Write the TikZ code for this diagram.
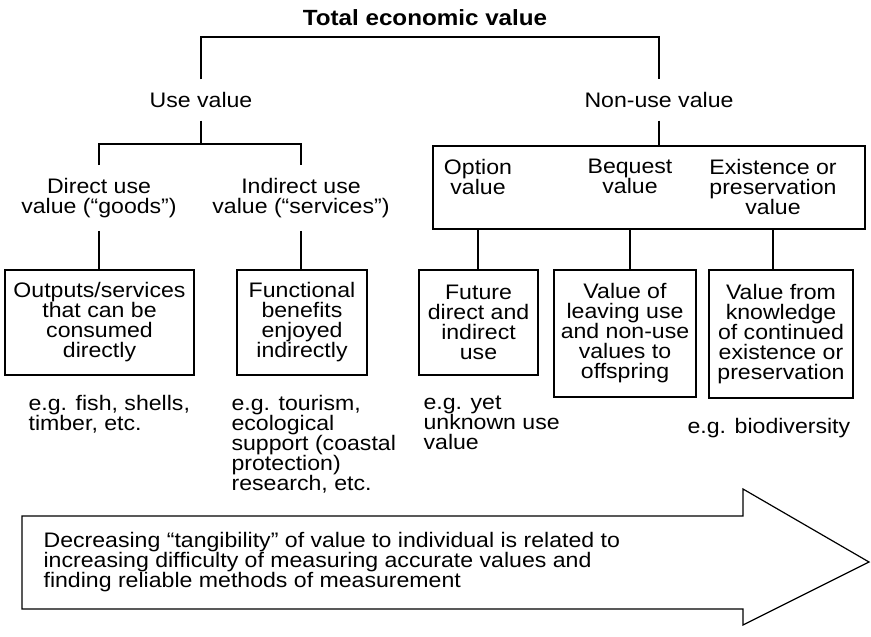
\documentclass[tikz,border=0pt]{standalone}
\usepackage{fontspec}
\setmainfont{Liberation Sans}[FakeStretch=1.1]

\begin{document}
\begin{tikzpicture}[x=0.5pt, y=-0.5pt, line width=0.6pt,
        font=\fontsize{10.5}{10}\selectfont]
    \tikzset{lbl/.style={align=center, inner sep=0pt, outer ysep=6.5pt},
        ttl/.style={font=\fontsize{11}{12}\selectfont\bfseries, inner sep=0pt},
        bx/.style={draw, align=center, inner sep=0pt},
        tag/.style={align=left, inner sep=0pt, anchor=north west}}
    \useasboundingbox (0,0) rectangle (871,636);

    %top
    \node[ttl] (tev) at (425,18) {Total economic value};
    \coordinate (tevbar) at (425,37);
    \node[lbl] (use) at (201,100) {Use value};
    \node[lbl] (nonuse) at (659,100) {Non-use value};
    \draw (use.north) |- (tevbar) -| (nonuse.north);

    %use value
    \coordinate (usebar) at (201,144);
    \node[lbl] (direct) at (99,198)   {Direct use\\value (``goods'')};
    \node[lbl] (indirect) at (301,198) {Indirect use\\value (``services'')};
    \draw (use.south) -- (usebar);
    \draw (direct.north) |- (usebar) -| (indirect.north);

    \node[bx, minimum width=94.5pt, minimum height=52.5pt] (outbox) at (99.5,322.5)
        {Outputs/services\\that can be\\consumed\\directly};
    \node[bx, minimum width=65pt, minimum height=52.5pt] (fnbox) at (302,322.5)
        {Functional\\benefits\\enjoyed\\indirectly};
    \draw (direct.south) -- (direct.south |- outbox.north);
    \draw (indirect.south) -- (indirect.south |- fnbox.north);

    \node[tag] (egfish) at (28,395) {e.g. fish, shells,\\timber, etc.};
    \node[tag] (egtour) at (231,395)
        {e.g. tourism,\\ecological\\support (coastal\\protection)\\research, etc.};

    %non-use value
    \node[bx, minimum width=216pt, minimum height=41.5pt] (nubox) at (649,187.5) {};
    \node[lbl] (opt) at (478,176.5) {Option\\value};
    \node[lbl] (beq) at (630,176.5) {Bequest\\value};
    \node[lbl] (exi) at (773,187)   {Existence or\\preservation\\value};
    \draw (nonuse.south) -- (nonuse.south |- nubox.north);

    \node[bx, minimum width=59.5pt, minimum height=52.5pt] (futbox) at (478.5,322.5)
        {Future\\direct and\\indirect\\use};
    \node[bx, minimum width=71pt, minimum height=63.5pt] (beqbox) at (625,333.5)
        {Value of\\leaving use\\and non-use\\values to\\offspring};
    \node[bx, minimum width=72pt, minimum height=64pt] (exibox) at (781,334)
        {Value from\\knowledge\\of continued\\existence or\\preservation};
    \foreach \a/\b in {opt/futbox, beq/beqbox, exi/exibox}
        \draw (\a |- nubox.south) -- (\a |- \b.north);

    \node[tag] (egyet) at (423,395) {e.g. yet\\unknown use\\value};
    \node[tag] (egbio) at (687,418) {e.g. biodiversity};

    %arrow
    \draw (22,516) -- (743,516) -- (743,489) -- (869,562) -- (743,625)
        -- (743,609) -- (22,609) -- cycle;
    \node[tag] (gradnote) at (43,532)
        {Decreasing ``tangibility'' of value to individual is related to\\
         increasing difficulty of measuring accurate values and\\
         finding reliable methods of measurement};

\end{tikzpicture}
\end{document}
